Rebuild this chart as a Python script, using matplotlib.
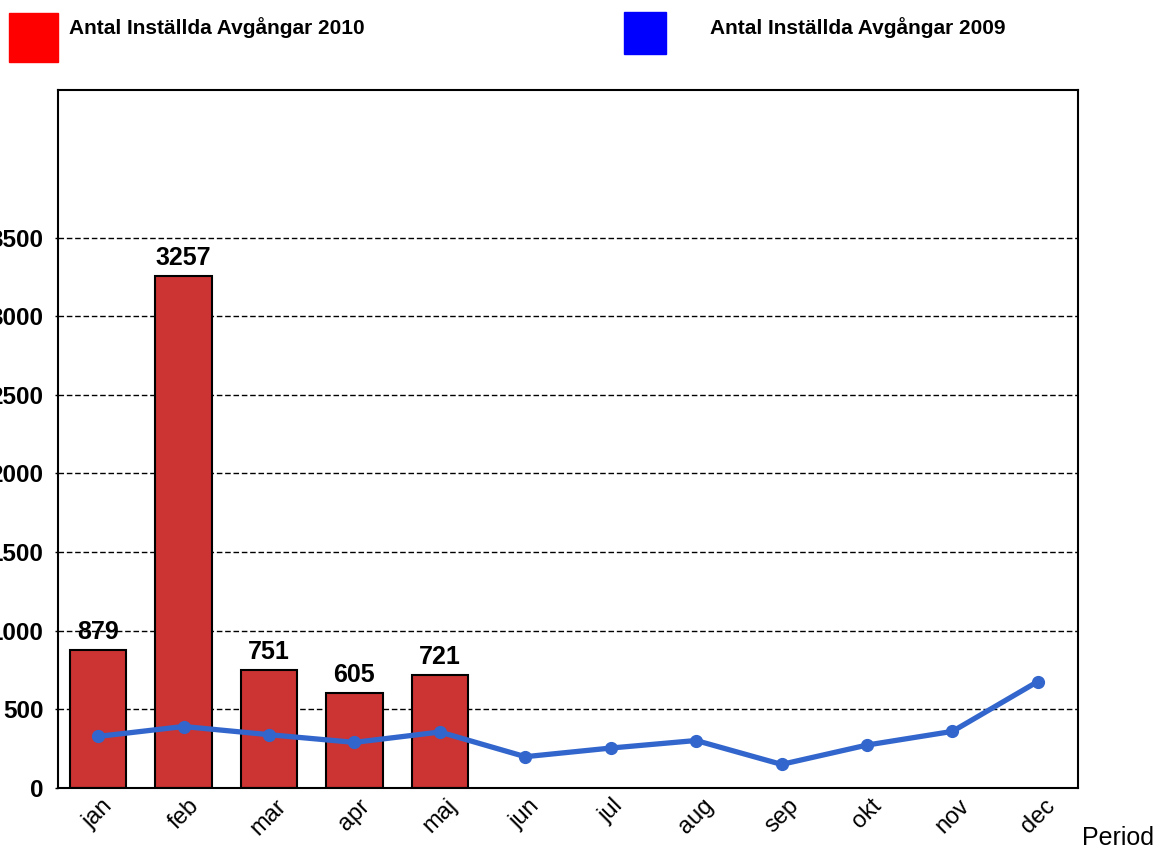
import matplotlib.pyplot as plt
import matplotlib.patches as mpatches
import numpy as np

plt.rcParams['font.family'] = ['Liberation Sans', 'DejaVu Sans']

months = ['jan', 'feb', 'mar', 'apr', 'maj', 'jun', 'jul', 'aug', 'sep', 'okt', 'nov', 'dec']
cancelled_2010 = [879, 3257, 751, 605, 721]
cancelled_2009 = [328, 391, 339, 290, 356, 199, 254, 302, 150, 273, 360, 677]
y_ticks = [0, 500, 1000, 1500, 2000, 2500, 3000, 3500]

fig = plt.figure(figsize=(11.59, 8.48), dpi=100)
ax = fig.add_axes([58 / 1159, 60 / 848, 1020 / 1159, 698 / 848])

x = np.arange(len(months))
bars = ax.bar(x[:len(cancelled_2010)], cancelled_2010, width=0.66,
              color='#cc3333', edgecolor='black', linewidth=1.5, zorder=2)
for b, v in zip(bars, cancelled_2010):
    ax.annotate(str(v), (b.get_x() + b.get_width() / 2, v),
                xytext=(0, 4), textcoords='offset points',
                ha='center', va='bottom', fontsize=18, fontweight='bold')

ax.plot(x, cancelled_2009, color='#3366cc', linewidth=3.8,
        marker='o', markersize=8.5, zorder=3)

ax.set_xlim(-0.47, len(months) - 0.53)
ax.set_ylim(0, 4438)
ax.set_yticks(y_ticks)
ax.set_yticklabels([str(t) for t in y_ticks], fontsize=17.5, fontweight='bold')
ax.yaxis.grid(True, linestyle=(0, (4, 2)), color='black', linewidth=1)
ax.set_axisbelow(True)
ax.tick_params(axis='y', length=2.5, width=1, pad=8)
ax.set_xticks(x)
ax.set_xticklabels(months, rotation=45, fontsize=17, ha='center', va='top')
ax.tick_params(axis='x', length=0, pad=5)
for s in ax.spines.values():
    s.set_linewidth(1.5)

fig.text(1082 / 1159, 1 - 838 / 848, 'Period', fontsize=18, ha='left', va='center')

# legend squares on top
fig.add_artist(mpatches.Rectangle((9 / 1159, 1 - 62 / 848), 49 / 1159, 49 / 848,
                                  color='#ff0000', transform=fig.transFigure))
fig.text(69 / 1159, 1 - 28 / 848, 'Antal Inställda Avgångar 2010',
         fontsize=15, fontweight='bold', va='center')
fig.add_artist(mpatches.Rectangle((624 / 1159, 1 - 54 / 848), 42 / 1159, 42 / 848,
                                  color='#0000ff', transform=fig.transFigure))
fig.text(710 / 1159, 1 - 28 / 848, 'Antal Inställda Avgångar 2009',
         fontsize=15, fontweight='bold', va='center')

fig.savefig('out.png', dpi=100)
